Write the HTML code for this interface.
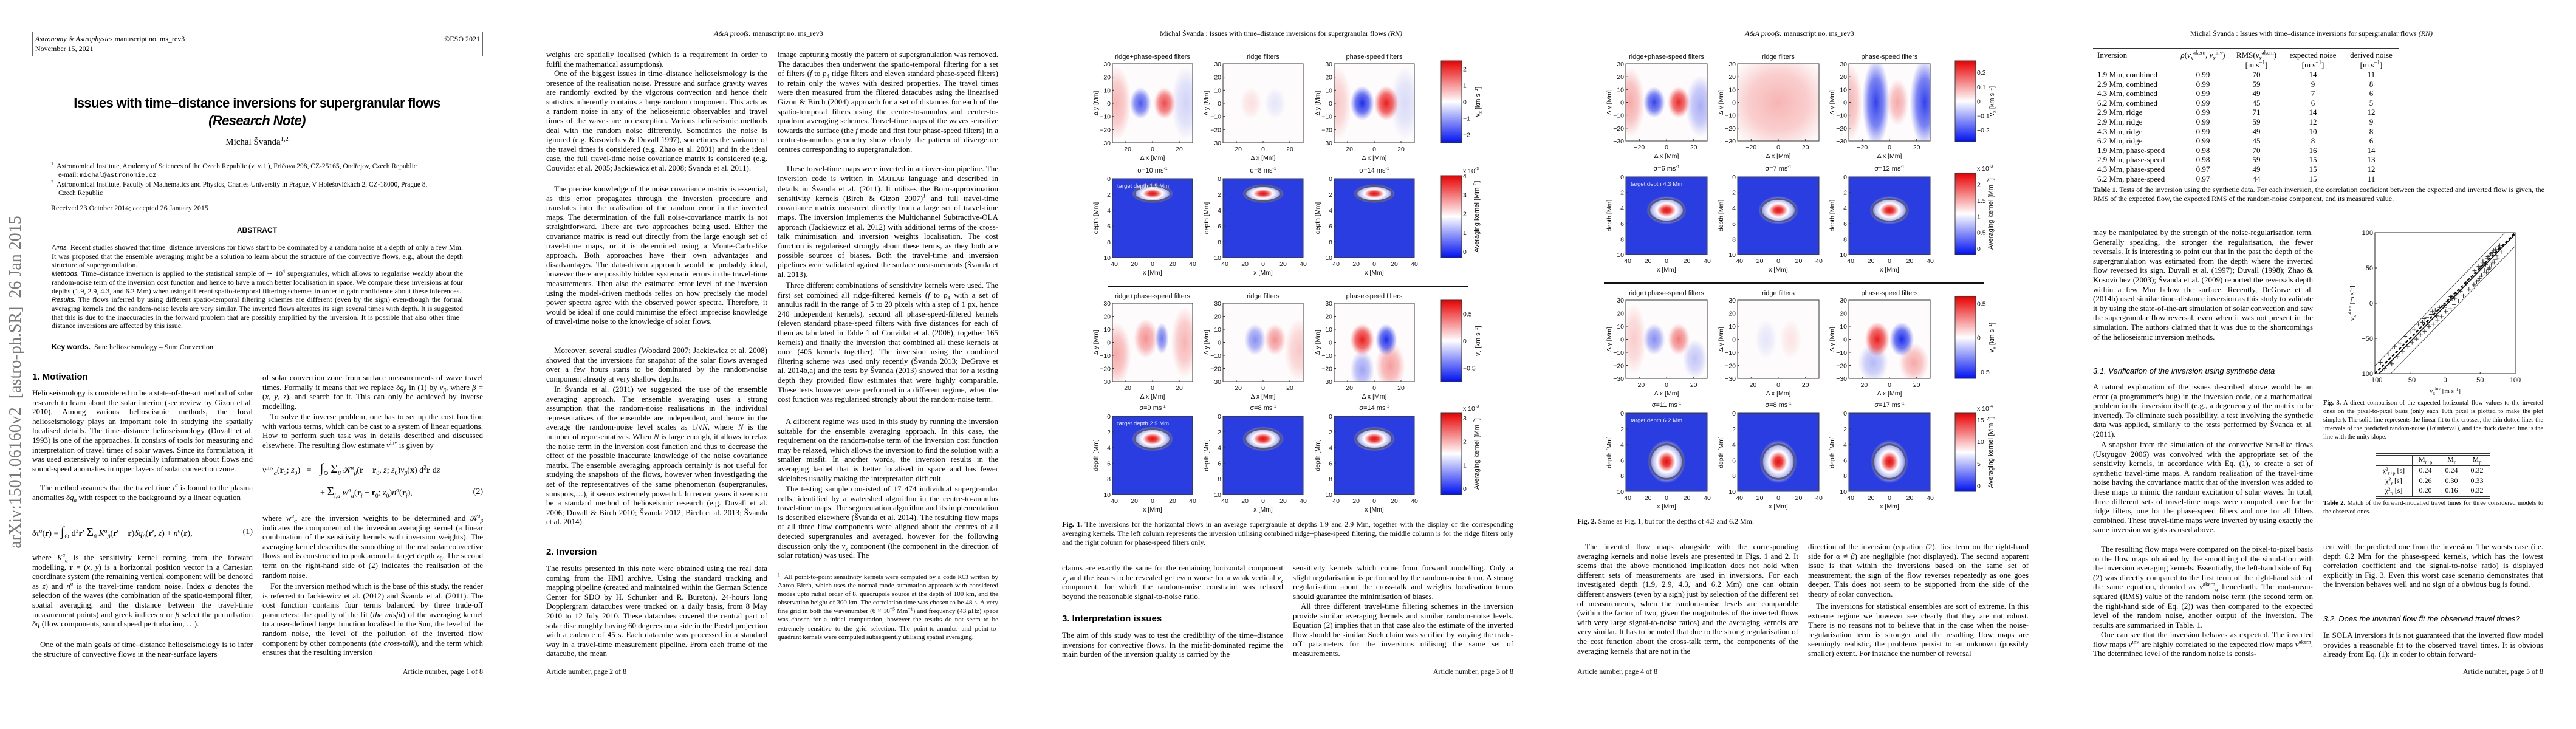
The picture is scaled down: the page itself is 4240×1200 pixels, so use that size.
<!DOCTYPE html>
<html lang="en">
<head>
<meta charset="utf-8">
<title>Issues with time-distance inversions for supergranular flows</title>
<style>
  html,body{margin:0;padding:0;background:#fff;}
  body{width:4240px;height:1200px;position:relative;overflow:hidden;color:#000;font-family:"Liberation Serif",serif;}
  .c{position:absolute;font:13px/15.6px "Liberation Serif",serif;text-align:justify;overflow:hidden;}
  .c.i{text-indent:13px;}
  .h{position:absolute;font:bold 15px "Liberation Sans",sans-serif;white-space:nowrap;}
  .hi{position:absolute;font:italic 13px "Liberation Sans",sans-serif;white-space:nowrap;}
  .run{position:absolute;font:12px "Liberation Serif",serif;white-space:nowrap;}
  .foot{position:absolute;font:12px "Liberation Serif",serif;white-space:nowrap;top:1098px;}
  .cap{position:absolute;font:12px/15px "Liberation Serif",serif;text-align:justify;overflow:hidden;}
  .cap.s{font-size:10.5px;line-height:14px;}
  .eq{position:absolute;font:14px "Liberation Serif",serif;white-space:nowrap;}
  .eq i{font-style:italic;}
  sup,sub{font-size:70%;line-height:0;}
  #figs{position:absolute;left:0;top:0;}
  .tb{position:absolute;font:13px "Liberation Serif",serif;white-space:nowrap;}
</style>
</head>
<body>

<div style="position:absolute;left:-252px;top:611px;width:560px;height:36px;transform:rotate(-90deg);font:28px 'Liberation Serif',serif;color:#7a7a7a;text-align:center;white-space:nowrap;">arXiv:1501.06160v2&nbsp; [astro-ph.SR]&nbsp; 26 Jan 2015</div>

<!-- PAGE 1 -->
<div>
  <div style="position:absolute;left:53px;top:52px;width:740px;height:39px;border:1px solid #666;font:12px 'Liberation Serif',serif;">
    <div style="position:absolute;left:4px;top:4px;"><i>Astronomy &amp; Astrophysics</i> manuscript no. ms_rev3</div>
    <div style="position:absolute;left:4px;top:20px;">November 15, 2021</div>
    <div style="position:absolute;right:4px;top:4px;">©ESO 2021</div>
  </div>
  <div style="position:absolute;left:23px;width:800px;top:157px;text-align:center;font:bold 22px 'Liberation Sans',sans-serif;letter-spacing:-0.6px;">Issues with time–distance inversions for supergranular flows</div>
  <div style="position:absolute;left:23px;width:800px;top:186px;text-align:center;font:italic bold 22px 'Liberation Sans',sans-serif;letter-spacing:-0.6px;">(Research Note)</div>
  <div style="position:absolute;left:23px;width:800px;top:226px;text-align:center;font:15px 'Liberation Serif',serif;">Michal Švanda<sup>1,2</sup></div>
  <div style="position:absolute;left:84px;top:267px;width:700px;font:11.5px/14.3px 'Liberation Serif',serif;">
    <div><sup>1</sup>&nbsp; Astronomical Institute, Academy of Sciences of the Czech Republic (v. v. i.), Fričova 298, CZ-25165, Ondřejov, Czech Republic</div>
    <div style="padding-left:12px;">e-mail: <span style="font-family:'Liberation Mono',monospace;font-size:10.5px;">michal@astronomie.cz</span></div>
    <div><sup>2</sup>&nbsp; Astronomical Institute, Faculty of Mathematics and Physics, Charles University in Prague, V Holešovičkách 2, CZ-18000, Prague 8,</div>
    <div style="padding-left:12px;">Czech Republic</div>
  </div>
  <div style="position:absolute;left:84px;top:335px;font:12px 'Liberation Serif',serif;">Received 23 October 2014; accepted 26 January 2015</div>
  <div style="position:absolute;left:23px;width:800px;top:372px;text-align:center;font:bold 12px 'Liberation Sans',sans-serif;">ABSTRACT</div>
  <div class="cap" style="left:85px;top:400px;width:677px;height:155px;font-size:12px;line-height:14px;">
    <i style="font-family:'Liberation Sans',sans-serif;font-size:11px;">Aims.</i> Recent studies showed that time–distance inversions for flows start to be dominated by a random noise at a depth of only a few Mm. It was proposed that the ensemble averaging might be a solution to learn about the structure of the convective flows, e.g., about the depth structure of supergranulation.<br>
    <i style="font-family:'Liberation Sans',sans-serif;font-size:11px;">Methods.</i> Time–distance inversion is applied to the statistical sample of ∼ 10<sup>4</sup> supergranules, which allows to regularise weakly about the random-noise term of the inversion cost function and hence to have a much better localisation in space. We compare these inversions at four depths (1.9, 2.9, 4.3, and 6.2 Mm) when using different spatio-temporal filtering schemes in order to gain confidence about these inferences.<br>
    <i style="font-family:'Liberation Sans',sans-serif;font-size:11px;">Results.</i> The flows inferred by using different spatio-temporal filtering schemes are different (even by the sign) even-though the formal averaging kernels and the random-noise levels are very similar. The inverted flows alterates its sign several times with depth. It is suggested that this is due to the inaccuracies in the forward problem that are possibly amplified by the inversion. It is possible that also other time–distance inversions are affected by this issue.
  </div>
  <div style="position:absolute;left:85px;top:564px;font:12px 'Liberation Serif',serif;"><b style="font-family:'Liberation Sans',sans-serif;">Key words.</b>&nbsp; Sun: helioseismology – Sun: Convection</div>

  <div class="h" style="left:53px;top:612px;">1. Motivation</div>
  <div class="c" style="left:53px;top:639px;width:363px;height:156px;">Helioseismology is considered to be a state-of-the-art method of solar research to learn about the solar interior (see review by Gizon et al. 2010). Among various helioseismic methods, the local helioseismology plays an important role in studying the spatially localised details. The time–distance helioseismology (Duvall et al. 1993) is one of the approaches. It consists of tools for measuring and interpretation of travel times of solar waves. Since its formulation, it was used extensively to infer especially information about flows and sound-speed anomalies in upper layers of solar convection zone.</div>
  <div class="c i" style="left:53px;top:795px;width:363px;height:47px;">The method assumes that the travel time <i>τ<sup>a</sup></i> is bound to the plasma anomalies <i>δq<sub>α</sub></i> with respect to the background by a linear equation</div>
  <div class="eq" style="left:53px;top:862px;width:363px;"><i>δτ<sup>a</sup></i>(<b>r</b>) = <span style="font-size:22px;">∫</span><sub>⊙</sub> d<sup>2</sup><b>r</b>′ <span style="font-size:20px;">Σ</span><sub><i>β</i></sub> <i>K<sup>a</sup><sub>β</sub></i>(<b>r</b>′ − <b>r</b>)<i>δq<sub>β</sub></i>(<b>r</b>′, <i>z</i>) + <i>n<sup>a</sup></i>(<b>r</b>),<span style="position:absolute;right:0;top:6px;">(1)</span></div>
  <div class="c" style="left:53px;top:910px;width:363px;height:140px;">where <i>K<sup>a</sup><sub>α</sub></i> is the sensitivity kernel coming from the forward modelling, <b>r</b> = (<i>x</i>, <i>y</i>) is a horizontal position vector in a Cartesian coordinate system (the remaining vertical component will be denoted as <i>z</i>) and <i>n<sup>a</sup></i> is the travel-time random noise. Index <i>a</i> denotes the selection of the waves (the combination of the spatio-temporal filter, spatial averaging, and the distance between the travel-time measurement points) and greek indices <i>α</i> or <i>β</i> select the perturbation <i>δq</i> (flow components, sound speed perturbation, …).</div>
  <div class="c i" style="left:53px;top:1053px;width:363px;height:31px;">One of the main goals of time–distance helioseismology is to infer the structure of convective flows in the near-surface layers</div>

  <div class="c" style="left:432px;top:614px;width:363px;height:62px;">of solar convection zone from surface measurements of wave travel times. Formally it means that we replace <i>δq<sub>β</sub></i> in (1) by <i>v<sub>β</sub></i>, where <i>β</i> = (<i>x</i>, <i>y</i>, <i>z</i>), and search for it. This can only be achieved by inverse modelling.</div>
  <div class="c i" style="left:432px;top:678px;width:363px;height:62px;">To solve the inverse problem, one has to set up the cost function with various terms, which can be cast to a system of linear equations. How to perform such task was in details described and discussed elsewhere. The resulting flow estimate <i>v</i><sup>inv</sup> is given by</div>
  <div class="eq" style="left:432px;top:758px;"><i>v</i><sup>inv</sup><sub><i>α</i></sub>(<b>r</b><sub>0</sub>; <i>z</i><sub>0</sub>) &nbsp; = &nbsp;&nbsp; <span style="font-size:22px;">∫</span><sub>⊙</sub> <span style="font-size:20px;">Σ</span><sub><i>β</i></sub> 𝒦<sup><i>α</i></sup><sub><i>β</i></sub>(<b>r</b> − <b>r</b><sub>0</sub>, <i>z</i>; <i>z</i><sub>0</sub>)<i>v<sub>β</sub></i>(<b>x</b>) d<sup>2</sup><b>r</b> d<i>z</i></div>
  <div class="eq" style="left:432px;top:798px;width:363px;"><span style="padding-left:95px;">+ <span style="font-size:20px;">Σ</span><sub><i>i,a</i></sub> <i>w<sup>a</sup><sub>α</sub></i>(<b>r</b><sub><i>i</i></sub> − <b>r</b><sub>0</sub>; <i>z</i><sub>0</sub>)<i>n<sup>a</sup></i>(<b>r</b><sub><i>i</i></sub>),</span><span style="position:absolute;right:0;top:4px;">(2)</span></div>
  <div class="c" style="left:432px;top:845px;width:363px;height:109px;">where <i>w<sup>a</sup><sub>α</sub></i> are the inversion weights to be determined and 𝒦<sup><i>α</i></sup><sub><i>β</i></sub> indicates the component of the inversion averaging kernel (a linear combination of the sensitivity kernels with inversion weights). The averaging kernel describes the smoothing of the real solar convective flows and is constructed to peak around a target depth <i>z</i><sub>0</sub>. The second term on the right-hand side of (2) indicates the realisation of the random noise.</div>
  <div class="c i" style="left:432px;top:957px;width:363px;height:125px;">For the inversion method which is the base of this study, the reader is referred to Jackiewicz et al. (2012) and Švanda et al. (2011). The cost function contains four terms balanced by three trade-off parameters: the quality of the fit (<i>the misfit</i>) of the averaging kernel to a user-defined target function localised in the Sun, the level of the random noise, the level of the pollution of the inverted flow component by other components (<i>the cross-talk</i>), and the term which ensures that the resulting inversion</div>
  <div class="foot" style="left:595px;width:200px;text-align:right;">Article number, page 1 of 8</div>
</div>

<!-- PAGE 2 -->
<div>
  <div class="run" style="left:1175px;top:48px;"><i>A&amp;A proofs:</i> manuscript no. ms_rev3</div>
  <div class="c" style="left:899px;top:82px;width:364px;height:31px;">weights are spatially localised (which is a requirement in order to fulfil the mathematical assumptions).</div>
  <div class="c i" style="left:899px;top:113px;width:364px;height:187px;">One of the biggest issues in time–distance helioseismology is the presence of the realisation noise. Pressure and surface gravity waves are randomly excited by the vigorous convection and hence their statistics inherently contains a large random component. This acts as a random noise in any of the helioseismic observables and travel times of the waves are no exception. Various helioseismic methods deal with the random noise differently. Sometimes the noise is ignored (e.g. Kosovichev &amp; Duvall 1997), sometimes the variance of the travel times is considered (e.g. Zhao et al. 2001) and in the ideal case, the full travel-time noise covariance matrix is considered (e.g. Couvidat et al. 2005; Jackiewicz et al. 2008; Švanda et al. 2011).</div>
  <div class="c i" style="left:899px;top:303px;width:364px;height:265px;">The precise knowledge of the noise covariance matrix is essential, as this error propagates through the inversion procedure and translates into the realisation of the random error in the inverted maps. The determination of the full noise-covariance matrix is not straightforward. There are two approaches being used. Either the covariance matrix is read out directly from the large enough set of travel-time maps, or it is determined using a Monte-Carlo-like approach. Both approaches have their own advantages and disadvantages. The data-driven approach would be probably ideal, however there are possibly hidden systematic errors in the travel-time measurements. Then also the estimated error level of the inversion using the model-driven methods relies on how precisely the model power spectra agree with the observed power spectra. Therefore, it would be ideal if one could minimise the effect imprecise knowledge of travel-time noise to the knowledge of solar flows.</div>
  <div class="c i" style="left:899px;top:569px;width:364px;height:62px;">Moreover, several studies (Woodard 2007; Jackiewicz et al. 2008) showed that the inversions for snapshot of the solar flows averaged over a few hours starts to be dominated by the random-noise component already at very shallow depths.</div>
  <div class="c i" style="left:899px;top:633px;width:364px;height:234px;">In Švanda et al. (2011) we suggested the use of the ensemble averaging approach. The ensemble averaging uses a strong assumption that the random-noise realisations in the individual representatives of the ensemble are independent, and hence in the average the random-noise level scales as 1/√<i>N</i>, where <i>N</i> is the number of representatives. When <i>N</i> is large enough, it allows to relax the noise term in the inversion cost function and thus to decrease the effect of the possible inaccurate knowledge of the noise covariance matrix. The ensemble averaging approach certainly is not useful for studying the snapshots of the flows, however when investigating the set of the representatives of the same phenomenon (supergranules, sunspots,…), it seems extremely powerful. In recent years it seems to be a standard method of helioseismic research (e.g. Duvall et al. 2006; Duvall &amp; Birch 2010; Švanda 2012; Birch et al. 2013; Švanda et al. 2014).</div>
  <div class="h" style="left:899px;top:900px;">2. Inversion</div>
  <div class="c" style="left:899px;top:928px;width:364px;height:156px;">The results presented in this note were obtained using the real data coming from the HMI archive. Using the standard tracking and mapping pipeline (created and maintained within the German Science Center for SDO by H. Schunker and R. Burston), 24-hours long Dopplergram datacubes were tracked on a daily basis, from 8 May 2010 to 12 July 2010. These datacubes covered the central part of solar disc roughly having 60 degrees on a side in the Postel projection with a cadence of 45 s. Each datacube was processed in a standard way in a travel-time measurement pipeline. From each frame of the datacube, the mean</div>

  <div class="c" style="left:1280px;top:82px;width:363px;height:187px;">image capturing mostly the pattern of supergranulation was removed. The datacubes then underwent the spatio-temporal filtering for a set of filters (<i>f</i> to <i>p</i><sub>4</sub> ridge filters and eleven standard phase-speed filters) to retain only the waves with desired properties. The travel times were then measured from the filtered datacubes using the linearised Gizon &amp; Birch (2004) approach for a set of distances for each of the spatio-temporal filters using the centre-to-annulus and centre-to-quadrant averaging schemes. Travel-time maps of the waves sensitive towards the surface (the <i>f</i> mode and first four phase-speed filters) in a centre-to-annulus geometry show clearly the pattern of divergence centres corresponding to supergranulation.</div>
  <div class="c i" style="left:1280px;top:270px;width:363px;height:187px;">These travel-time maps were inverted in an inversion pipeline. The inversion code is written in M<span style="font-size:10px;">ATLAB</span> language and described in details in Švanda et al. (2011). It utilises the Born-approximation sensitivity kernels (Birch &amp; Gizon 2007)<sup>1</sup> and full travel-time covariance matrix measured directly from a large set of travel-time maps. The inversion implements the Multichannel Subtractive-OLA approach (Jackiewicz et al. 2012) with additional terms of the cross-talk minimisation and inversion weights localisation. The cost function is regularised strongly about these terms, as they both are possible sources of biases. Both the travel-time and inversion pipelines were validated against the surface measurements (Švanda et al. 2013).</div>
  <div class="c i" style="left:1280px;top:462px;width:363px;height:218px;">Three different combinations of sensitivity kernels were used. The first set combined all ridge-filtered kernels (<i>f</i> to <i>p</i><sub>4</sub> with a set of annulus radii in the range of 5 to 20 pixels with a step of 1 px, hence 240 independent kernels), second all phase-speed-filtered kernels (eleven standard phase-speed filters with five distances for each of them as tabulated in Table 1 of Couvidat et al. (2006), together 165 kernels) and finally the inversion that combined all these kernels at once (405 kernels together). The inversion using the combined filtering scheme was used only recently (Švanda 2013; DeGrave et al. 2014b,a) and the tests by Švanda (2013) showed that for a testing depth they provided flow estimates that were highly comparable. These tests however were performed in a different regime, when the cost function was regularised strongly about the random-noise term.</div>
  <div class="c i" style="left:1280px;top:686px;width:363px;height:109px;">A different regime was used in this study by running the inversion suitable for the ensemble averaging approach. In this case, the requirement on the random-noise term of the inversion cost function may be relaxed, which allows the inversion to find the solution with a smaller misfit. In another words, the inversion results in the averaging kernel that is better localised in space and has fewer sidelobes usually making the interpretation difficult.</div>
  <div class="c i" style="left:1280px;top:797px;width:363px;height:125px;">The testing sample consisted of 17 474 individual supergranular cells, identified by a watershed algorithm in the centre-to-annulus travel-time maps. The segmentation algorithm and its implementation is described elsewhere (Švanda et al. 2014). The resulting flow maps of all three flow components were aligned about the centres of all detected supergranules and averaged, however for the following discussion only the <i>v<sub>x</sub></i> component (the component in the direction of solar rotation) was used. The</div>
  <div style="position:absolute;left:1280px;top:938px;width:110px;border-top:1px solid #222;"></div>
  <div class="c" style="left:1280px;top:943px;width:363px;height:142px;font-size:11px;line-height:14.1px;"><sup>1</sup>&nbsp; All point-to-point sensitivity kernels were computed by a code <span style="font-size:9px;">KC3</span> written by Aaron Birch, which uses the normal mode summation approach with considered modes upto radial order of 8, quadrupole source at the depth of 100 km, and the observation height of 300 km. The correlation time was chosen to be 48 s. A very fine grid in both the wavenumber (6 × 10<sup>−5</sup> Mm<sup>−1</sup>) and frequency (43 <i>μ</i>Hz) space was chosen for a initial computation, however the results do not seem to be extremely sensitive to the grid selection. The point-to-annulus and point-to-quadrant kernels were computed subsequently utilising spatial averaging.</div>
  <div class="foot" style="left:899px;">Article number, page 2 of 8</div>
</div>

<!-- PAGE 3 -->
<div>
  <div class="run" style="left:1909px;top:48px;">Michal Švanda : Issues with time–distance inversions for supergranular flows <i>(RN)</i></div>
  <div class="cap" style="left:1748px;top:856px;width:743px;height:46px;"><b>Fig. 1.</b> The inversions for the horizontal flows in an average supergranule at depths 1.9 and 2.9 Mm, together with the display of the corresponding averaging kernels. The left column represents the inversion utilising combined ridge+phase-speed filtering, the middle column is for the ridge filters only and the right column for phase-speed filters only.</div>
  <div class="c" style="left:1748px;top:927px;width:364px;height:62px;">claims are exactly the same for the remaining horizontal component <i>v<sub>y</sub></i> and the issues to be revealed get even worse for a weak vertical <i>v<sub>z</sub></i> component, for which the random-noise constraint was relaxed beyond the reasonable signal-to-noise ratio.</div>
  <div class="h" style="left:1748px;top:1010px;">3. Interpretation issues</div>
  <div class="c" style="left:1748px;top:1038px;width:364px;height:47px;">The aim of this study was to test the credibility of the time–distance inversions for convective flows. In the misfit-dominated regime the main burden of the inversion quality is carried by the</div>
  <div class="c" style="left:2128px;top:927px;width:363px;height:62px;">sensitivity kernels which come from forward modelling. Only a slight regularisation is performed by the random-noise term. A strong regularisation about the cross-talk and weights localisation terms should guarantee the minimisation of biases.</div>
  <div class="c i" style="left:2128px;top:990px;width:363px;height:94px;">All three different travel-time filtering schemes in the inversion provide similar averaging kernels and similar random-noise levels. Equation (2) implies that in that case also the estimate of the inverted flow should be similar. Such claim was verified by varying the trade-off parameters for the inversions utilising the same set of measurements.</div>
  <div class="foot" style="left:2291px;width:200px;text-align:right;">Article number, page 3 of 8</div>
</div>

<!-- PAGE 4 -->
<div>
  <div class="run" style="left:2872px;top:48px;"><i>A&amp;A proofs:</i> manuscript no. ms_rev3</div>
  <div class="cap" style="left:2596px;top:851px;width:743px;height:16px;"><b>Fig. 2.</b> Same as Fig. 1, but for the depths of 4.3 and 6.2 Mm.</div>
  <div class="c i" style="left:2596px;top:892px;width:364px;height:187px;">The inverted flow maps alongside with the corresponding averaging kernels and noise levels are presented in Figs. 1 and 2. It seems that the above mentioned implication does not hold when different sets of measurements are used in inversions. For each investigated depth (1.9, 2.9, 4.3, and 6.2 Mm) one can obtain different answers (even by a sign) just by selection of the different set of measurements, when the random-noise levels are comparable (within the factor of two, given the magnitudes of the inverted flows with very large signal-to-noise ratios) and the averaging kernels are very similar. It has to be noted that due to the strong regularisation of the cost function about the cross-talk term, the components of the averaging kernels that are not in the</div>
  <div class="c" style="left:2976px;top:892px;width:363px;height:94px;">direction of the inversion (equation (2), first term on the right-hand side for <i>α</i> ≠ <i>β</i>) are negligible (not displayed). The second apparent issue is that within the inversions based on the same set of measurement, the sign of the flow reverses repeatedly as one goes deeper. This does not seem to be supported from the side of the theory of solar convection.</div>
  <div class="c i" style="left:2976px;top:990px;width:363px;height:94px;">The inversions for statistical ensembles are sort of extreme. In this extreme regime we however see clearly that they are not robust. There is no reasons not to believe that in the case when the noise-regularisation term is stronger and the resulting flow maps are seemingly realistic, the problems persist to an unknown (possibly smaller) extent. For instance the number of reversal</div>
  <div class="foot" style="left:2596px;">Article number, page 4 of 8</div>
</div>

<!-- PAGE 5 -->
<div>
  <div class="run" style="left:3605px;top:48px;">Michal Švanda : Issues with time–distance inversions for supergranular flows <i>(RN)</i></div>
  <div id="table1"></div>
  <div class="cap" style="left:3445px;top:305px;width:743px;height:31px;"><b>Table 1.</b> Tests of the inversion using the synthetic data. For each inversion, the correlation coeficient between the expected and inverted flow is given, the RMS of the expected flow, the expected RMS of the random-noise component, and its measured value.</div>
  <div class="c" style="left:3445px;top:375px;width:362px;height:203px;">may be manipulated by the strength of the noise-regularisation term. Generally speaking, the stronger the regularisation, the fewer reversals. It is interesting to point out that in the past the depth of the supergranulation was estimated from the depth where the inverted flow reversed its sign. Duvall et al. (1997); Duvall (1998); Zhao &amp; Kosovichev (2003); Švanda et al. (2009) reported the reversals depth within a few Mm below the surface. Recently, DeGrave et al. (2014b) used similar time–distance inversion as this study to validate it by using the state-of-the-art simulation of solar convection and saw the supergranular flow reversal, even when it was not present in the simulation. The authors claimed that it was due to the shortcomings of the helioseismic inversion methods.</div>
  <div class="hi" style="left:3445px;top:603px;">3.1. Verification of the inversion using synthetic data</div>
  <div class="c" style="left:3445px;top:629px;width:362px;height:94px;">A natural explanation of the issues described above would be an error (a programmer's bug) in the inversion code, or a mathematical problem in the inversion itself (e.g., a degeneracy of the matrix to be inverted). To eliminate such possibility, a test involving the synthetic data was applied, similarly to the tests performed by Švanda et al. (2011).</div>
  <div class="c i" style="left:3445px;top:724px;width:362px;height:172px;">A snapshot from the simulation of the convective Sun-like flows (Ustyugov 2006) was convolved with the appropriate set of the sensitivity kernels, in accordance with Eq. (1), to create a set of synthetic travel-time maps. A random realisation of the travel-time noise having the covariance matrix that of the inversion was added to these maps to mimic the random excitation of solar waves. In total, three different sets of travel-time maps were computed, one for the ridge filters, one for the phase-speed filters and one for all filters combined. These travel-time maps were inverted by using exactly the same inversion weights as used above.</div>
  <div class="c i" style="left:3445px;top:896px;width:362px;height:140px;">The resulting flow maps were compared on the pixel-to-pixel basis to the flow maps obtained by the smoothing of the simulation with the inversion averaging kernels. Essentially, the left-hand side of Eq. (2) was directly compared to the first term of the right-hand side of the same equation, denoted as <i>v</i><sup>akern</sup><sub><i>α</i></sub> henceforth. The root-mean-squared (RMS) value of the random noise term (the second term on the right-hand side of Eq. (2)) was then compared to the expected level of the random noise, another output of the inversion. The results are summarised in Table. 1.</div>
  <div class="c i" style="left:3445px;top:1037px;width:362px;height:47px;">One can see that the inversion behaves as expected. The inverted flow maps <i>v</i><sup>inv</sup> are highly correlated to the expected flow maps <i>v</i><sup>akern</sup>. The determined level of the random noise is consis-</div>
  <div class="cap s" style="left:3824px;top:657px;width:362px;height:71px;"><b>Fig. 3.</b> A direct comparison of the expected horizontal flow values to the inverted ones on the pixel-to-pixel basis (only each 10th pixel is plotted to make the plot simpler). The solid line represents the linear fit to the crosses, the thin dotted lines the intervals of the predicted random-noise (1<i>σ</i> interval), and the thick dashed line is the line with the unity slope.</div>
  <div id="table2"></div>
  <div class="cap s" style="left:3824px;top:822px;width:362px;height:29px;"><b>Table 2.</b> Match of the forward-modelled travel times for three considered models to the observed ones.</div>
  <div class="c" style="left:3824px;top:892px;width:362px;height:94px;">tent with the predicted one from the inversion. The worsts case (i.e. depth 6.2 Mm for the phase-speed kernels, which has the lowest correlation coefficient and the signal-to-noise ratio) is displayed explicitly in Fig. 3. Even this worst case scenario demonstrates that the inversion behaves well and no sign of a obvious bug is found.</div>
  <div class="hi" style="left:3824px;top:1011px;">3.2. Does the inverted flow fit the observed travel times?</div>
  <div class="c" style="left:3824px;top:1038px;width:362px;height:47px;">In SOLA inversions it is not guaranteed that the inverted flow model provides a reasonable fit to the observed travel times. It is obvious already from Eq. (1): in order to obtain forward-</div>
  <div class="foot" style="left:3986px;width:200px;text-align:right;">Article number, page 5 of 8</div>
</div>

<svg id="figs" width="4240" height="1200" xmlns="http://www.w3.org/2000/svg">
  <defs>
    <radialGradient id="gRed"><stop offset="0" stop-color="#e81010" stop-opacity="1"/><stop offset="0.55" stop-color="#ee3030" stop-opacity="0.75"/><stop offset="1" stop-color="#f04040" stop-opacity="0"/></radialGradient>
    <radialGradient id="gBlue"><stop offset="0" stop-color="#1020e8" stop-opacity="1"/><stop offset="0.55" stop-color="#3040ee" stop-opacity="0.75"/><stop offset="1" stop-color="#4050f0" stop-opacity="0"/></radialGradient>
    <radialGradient id="gKer"><stop offset="0" stop-color="#e21010"/><stop offset="0.2" stop-color="#ef3a3a"/><stop offset="0.48" stop-color="#ffffff"/><stop offset="0.72" stop-color="#b8bef2"/><stop offset="1" stop-color="#2a3de0"/></radialGradient>
    <linearGradient id="gBar" x1="0" y1="0" x2="0" y2="1"><stop offset="0" stop-color="#e80000"/><stop offset="0.5" stop-color="#ffffff"/><stop offset="1" stop-color="#0012f0"/></linearGradient>
  </defs>
</svg>

<script>
// ---------- DATA ----------
const flowTitles = ['ridge+phase-speed filters', 'ridge filters', 'phase-speed filters'];
const flowYTicks = [30, 20, 10, 0, -10, -20, -30];
const flowXTicks = [-20, 0, 20];
const kerYTicks = [0, 2, 4, 6, 8, 10];
const kerXTicks = [-40, -20, 0, 20, 40];
const fig1Depth1Blobs = [
  [[-27,0,11,28,0.3],[25,0,11,28,-0.18],[-9,0,8,12,-0.75],[9,0,8,12,0.75]],
  [[-9,0,8,12,0.12],[9,0,8,12,-0.1]],
  [[-28,0,11,28,0.22],[23,0,11,28,-0.15],[-9,0,9,13,-0.95],[9,0,9,13,0.95]]
];
const fig1Depth2Blobs = [
  [[-27,-9,11,24,0.35],[24,0,10,27,0.3],[-5,3,9,15,0.45],[7,3,5,12,-0.6]],
  [[27,-6,11,24,0.22],[-6,2,8,12,-0.5],[9,2,8,12,0.45]],
  [[-9,-21,9,15,-0.4],[12,-18,11,18,0.4],[-9,2,9,12,0.95],[9,2,8,12,-0.95]]
];
const fig2Depth1Blobs = [
  [[-27,0,11,27,0.35],[25,-3,11,24,-0.35],[-9,0,8,12,-0.85],[9,0,8,12,0.9]],
  [[0,0,40,40,0.3]],
  [[-29,0,9,30,0.3],[-10,0,10,34,-0.85],[6,0,8,18,0.35],[26,0,11,34,-0.85]]
];
const fig2Depth2Blobs = [
  [[-9,0,8,12,-0.5],[9,0,8,12,0.55],[21,-15,9,15,-0.25],[-24,0,9,27,0.2]],
  [[-9,0,8,15,-0.1],[9,0,8,15,0.1]],
  [[-12,-18,11,15,-0.3],[18,-18,11,15,0.35],[-9,0,9,13,0.95],[9,0,9,13,-0.95]]
];
const kernelDepths = [1.9, 2.9, 4.3, 6.2];
const kernelHalfWidths = [18, 18, 17, 16];
const kernelHalfHeights = [0.95, 1.25, 1.45, 2.2];
const fig1SigmaA = [10, 8, 14];
const fig1SigmaB = [9, 8, 14];
const fig2SigmaA = [6, 7, 12];
const fig2SigmaB = [11, 8, 17];
const cbFlow1Ticks = [2, 1, 0, -1, -2];      const cbFlow1Max = [2.5];
const cbKer1Ticks = [4, 3, 2, 1, 0];         const cbKer1Max = [4];
const cbFlow2Ticks = [0.5, 0, -0.5];         const cbFlow2Max = [0.75];
const cbKer2Ticks = [3, 2, 1, 0];            const cbKer2Max = [3.2];
const cbFlow3Ticks = [0.2, 0.1, 0, -0.1, -0.2]; const cbFlow3Max = [0.28];
const cbKer3Ticks = [2, 1.5, 1, 0.5, 0];     const cbKer3Max = [2.35];
const cbFlow4Ticks = [0.5, 0, -0.5];         const cbFlow4Max = [0.6];
const cbKer4Ticks = [15, 10, 5, 0];          const cbKer4Max = [16.5];
const scatterX = [-92,-86,-80,-76,-72,-68,-64,-60,-57,-53,-50,-47,-44,-41,-38,-35,-32,-29,-26,-23,-20,-17,-14,-11,-8,-5,-2,1,4,7,10,13,16,19,22,26,30,34,38,41,44,47,50,52,55,57,60,62,64,66,68,70,72,75,78,45,48,51,54,56,58,61,63,65,67,69,71,73,76,80,42,49,53,59,-30,-25,-18,-12,-6,0,8,14];
const scatterY = [-84,-93,-72,-86,-62,-76,-58,-69,-47,-62,-41,-56,-37,-51,-30,-45,-27,-40,-20,-33,-16,-30,-10,-24,-6,-19,-3,-12,2,-8,6,-2,13,3,17,10,28,20,34,26,42,32,50,40,56,44,63,48,67,54,72,58,76,64,82,30,52,38,60,47,55,66,50,70,58,75,62,68,80,73,46,35,58,44,-22,-28,-12,-18,-4,-6,9,7];
const fitSlope = [1.02];
const fitIntercept = [-4];
const noiseSigma = [17];
const axisTicks3 = [-100, -50, 0, 50, 100];
const t1Names = ['1.9 Mm, combined','2.9 Mm, combined','4.3 Mm, combined','6.2 Mm, combined','2.9 Mm, ridge','2.9 Mm, ridge','4.3 Mm, ridge','6.2 Mm, ridge','1.9 Mm, phase-speed','2.9 Mm, phase-speed','4.3 Mm, phase-speed','6.2 Mm, phase-speed'];
const t1Rho = ['0.99','0.99','0.99','0.99','0.99','0.99','0.99','0.99','0.98','0.98','0.97','0.97'];
const t1Rms = [70,59,49,45,71,59,49,45,70,59,49,44];
const t1Expected = [14,9,7,6,14,12,10,8,16,15,15,15];
const t1Derived = [11,8,6,5,12,9,8,6,14,13,12,11];
const t2Rows = ['χ²<sub>r+p</sub> [s]','χ²<sub>r</sub> [s]','χ²<sub>p</sub> [s]'];
const t2Cols = ['M<sub>r+p</sub>','M<sub>r</sub>','M<sub>p</sub>'];
const t2Vals = [['0.24','0.24','0.32'],['0.26','0.30','0.33'],['0.20','0.16','0.32']];

// ---------- HELPERS ----------
const NS = 'http://www.w3.org/2000/svg';
const svg = document.getElementById('figs');
function mk(tag, parent, attrs) {
  const e = document.createElementNS(NS, tag);
  for (const k in attrs) e.setAttribute(k, attrs[k]);
  parent.appendChild(e);
  return e;
}
function txt(parent, x, y, s, size, anchor, rot) {
  const t = mk('text', parent, {x: x, y: y, 'font-size': size, 'text-anchor': anchor || 'middle', 'font-family': 'Liberation Sans, sans-serif', fill: '#111'});
  if (rot) t.setAttribute('transform', 'rotate(' + rot + ' ' + x + ' ' + y + ')');
  t.innerHTML = s;
  return t;
}
let clipN = 0;

function flowPanel(x, y, w, h, blobs, title, name) {
  const g = mk('g', svg, {});
  
  
  const sx = v => x + (v + 30) / 60 * w;
  const sy = v => y + (30 - v) / 60 * h;
  const cid = 'clip' + (clipN++);
  const cp = mk('clipPath', g, {id: cid});
  mk('rect', cp, {x: x, y: y, width: w, height: h});
  mk('rect', g, {x: x, y: y, width: w, height: h, fill: '#fdfbfb'});
  const inner = mk('g', g, {'clip-path': 'url(#' + cid + ')'});
  blobs.forEach(b => {
    const e = mk('ellipse', inner, {cx: sx(b[0]), cy: sy(b[1]), rx: b[2] / 60 * w, ry: b[3] / 60 * h,
      fill: b[4] > 0 ? 'url(#gRed)' : 'url(#gBlue)', opacity: Math.abs(b[4])});
    
    
  });
  mk('rect', g, {x: x, y: y, width: w, height: h, fill: 'none', stroke: '#333', 'stroke-width': 1});
  flowYTicks.forEach(v => {
    mk('line', g, {x1: x, x2: x + 3, y1: sy(v), y2: sy(v), stroke: '#333'});
    txt(g, x - 3, sy(v) + 4, v < 0 ? '−' + (-v) : v, 10.5, 'end');
  });
  flowXTicks.forEach(v => {
    mk('line', g, {x1: sx(v), x2: sx(v), y1: y + h, y2: y + h - 3, stroke: '#333'});
    txt(g, sx(v), y + h + 14, v < 0 ? '−' + (-v) : v, 10.5);
  });
  txt(g, x + w / 2, y + h + 28, 'Δ x [Mm]', 10.5);
  txt(g, x - 24, y + h / 2, 'Δ y [Mm]', 10.5, 'middle', -90);
  txt(g, x + w / 2, y - 8, title, 11);
}

function kernelPanel(x, y, w, h, k, sigma, showTarget, name) {
  const g = mk('g', svg, {});
  
  
  const sx = v => x + (v + 40) / 80 * w;
  const sy = v => y + v / 10 * h;
  const cid = 'clip' + (clipN++);
  const cp = mk('clipPath', g, {id: cid});
  mk('rect', cp, {x: x, y: y, width: w, height: h});
  mk('rect', g, {x: x, y: y, width: w, height: h, fill: '#2a3de0'});
  const inner = mk('g', g, {'clip-path': 'url(#' + cid + ')'});
  const rx = kernelHalfWidths[k] / 80 * w, ry = kernelHalfHeights[k] / 10 * h;
  const blob = mk('ellipse', inner, {cx: sx(0), cy: sy(kernelDepths[k]), rx: rx * 1.15, ry: ry * 1.25, fill: 'url(#gKer)'});
  
  
  const cont = mk('ellipse', inner, {cx: sx(0), cy: sy(kernelDepths[k]), rx: rx, ry: ry, fill: 'none', stroke: '#5a5a6a', 'stroke-width': 3});
  
  
  mk('rect', g, {x: x, y: y, width: w, height: h, fill: 'none', stroke: '#333', 'stroke-width': 1});
  kerYTicks.forEach(v => {
    mk('line', g, {x1: x, x2: x + 3, y1: sy(v), y2: sy(v), stroke: '#333'});
    txt(g, x - 3, sy(v) + 4, v, 10.5, 'end');
  });
  kerXTicks.forEach(v => {
    txt(g, sx(v), y + h + 14, v < 0 ? '−' + (-v) : v, 10.5);
  });
  txt(g, x + w / 2, y + h + 28, 'x [Mm]', 10.5);
  txt(g, x - 24, y + h / 2, 'depth [Mm]', 10.5, 'middle', -90);
  txt(g, x + w / 2, y - 10, 'σ=' + sigma + ' ms<tspan dy="-4" font-size="7">-1</tspan>', 11);
  if (showTarget) {
    const t = txt(g, x + 8, y + 15, 'target depth ' + kernelDepths[k] + ' Mm', 9.5, 'start');
    t.setAttribute('fill', '#e8ecff');
  }
}

function colorbar(x, y, w, h, ticks, maxv, isKernel, exp, name) {
  const g = mk('g', svg, {});
  
  
  mk('rect', g, {x: x, y: y, width: w, height: h, fill: 'url(#gBar)', stroke: '#333', 'stroke-width': 1});
  const minv = isKernel ? -maxv * 0.08 : -maxv;
  const sy = v => y + (maxv - v) / (maxv - minv) * h;
  ticks.forEach(v => {
    txt(g, x + w + 2, sy(v) + 4, v < 0 ? '−' + (-v) : v, 10.5, 'start');
  });
  if (isKernel) {
    txt(g, x + w + 2, y - 4, 'x 10<tspan dy="-5" font-size="7">' + exp + '</tspan>', 10.5, 'start');
    txt(g, x + w + 28, y + h / 2, 'Averaging kernel [Mm<tspan dy="-4" font-size="7">−3</tspan><tspan dy="4">]</tspan>', 11, 'middle', -90);
  } else {
    txt(g, x + w + 30, y + h / 2, 'v<tspan dy="3" font-size="7">x</tspan><tspan dy="-3"> [km s</tspan><tspan dy="-4" font-size="7">−1</tspan><tspan dy="4">]</tspan>', 11, 'middle', -90);
  }
}

function figure(cols, w, rows, h, blobsA, blobsB, kA, kB, sigA, sigB, cbx, cbw, cbs, sep, label) {
  for (let c = 0; c < 3; c++) {
    flowPanel(cols[c], rows[0], w, h[0], blobsA[c], flowTitles[c], label + '-flow-map-' + (c + 1) + '-a');
    kernelPanel(cols[c], rows[1], w, h[1], kA, sigA[c], c === 0, label + '-kernel-map-' + (c + 1) + '-a');
    flowPanel(cols[c], rows[2], w, h[2], blobsB[c], flowTitles[c], label + '-flow-map-' + (c + 1) + '-b');
    kernelPanel(cols[c], rows[3], w, h[3], kB, sigB[c], c === 0, label + '-kernel-map-' + (c + 1) + '-b');
  }
  cbs.forEach((cb, i) => colorbar(cbx, cb[0], cbw, cb[1], cb[2], cb[3], cb[4], cb[5], label + '-colorbar-' + (i + 1)));
  const l = mk('line', svg, {x1: sep[0], x2: sep[1], y1: sep[2], y2: sep[2], stroke: '#111', 'stroke-width': 2});
  
  
}

figure([1831, 2013, 2196], 132, [105, 294, 499, 685], [130, 130, 129, 129],
  fig1Depth1Blobs, fig1Depth2Blobs, 0, 1, fig1SigmaA, fig1SigmaB, 2372, 34,
  [[100, 135, cbFlow1Ticks, cbFlow1Max[0], false, ''], [289, 135, cbKer1Ticks, cbKer1Max[0], true, '-3'],
   [494, 134, cbFlow2Ticks, cbFlow2Max[0], false, ''], [680, 134, cbKer2Ticks, cbKer2Max[0], true, '-3']],
  [1823, 2416, 472], 'fig1');

figure([2676, 2860, 3043], 134, [105, 291, 494, 680], [127, 128, 129, 129],
  fig2Depth1Blobs, fig2Depth2Blobs, 2, 3, fig2SigmaA, fig2SigmaB, 3218, 34,
  [[100, 133, cbFlow3Ticks, cbFlow3Max[0], false, ''], [285, 134, cbKer3Ticks, cbKer3Max[0], true, '-3'],
   [488, 135, cbFlow4Ticks, cbFlow4Max[0], false, ''], [680, 129, cbKer4Ticks, cbKer4Max[0], true, '-4']],
  [2640, 3265, 466], 'fig2');

// ---------- FIG 3 ----------
(function () {
  const X0 = 3909, X1 = 4140, Y0 = 383, Y1 = 615;
  const sx = v => X0 + (v + 100) / 200 * (X1 - X0);
  const sy = v => Y1 - (v + 100) / 200 * (Y1 - Y0);
  const g = mk('g', svg, {});
  
  
  const cp = mk('clipPath', g, {id: 'clipF3'});
  mk('rect', cp, {x: X0, y: Y0, width: X1 - X0, height: Y1 - Y0});
  mk('rect', g, {x: X0, y: Y0, width: X1 - X0, height: Y1 - Y0, fill: '#fff', stroke: '#222'});
  const inner = mk('g', g, {'clip-path': 'url(#clipF3)'});
  scatterX.forEach((vx, i) => {
    const cx = sx(vx), cy = sy(scatterY[i]);
    const p = mk('path', inner, {d: 'M' + (cx - 3.5) + ' ' + cy + 'h7M' + cx + ' ' + (cy - 3.5) + 'v7', stroke: '#333', 'stroke-width': 1});
    
    
  });
  const fy = v => fitSlope[0] * v + fitIntercept[0];
  [-noiseSigma[0], noiseSigma[0]].forEach(o => {
    const l = mk('line', inner, {x1: sx(-100), y1: sy(fy(-100) + o), x2: sx(100), y2: sy(fy(100) + o), stroke: '#333', 'stroke-width': 0.8});
    
    
  });
  const fit = mk('line', inner, {x1: sx(-100), y1: sy(fy(-100)), x2: sx(100), y2: sy(fy(100)), stroke: '#111', 'stroke-width': 1.6});
  
  
  const uni = mk('line', inner, {x1: sx(-100), y1: sy(-100), x2: sx(100), y2: sy(100), stroke: '#000', 'stroke-width': 2.2, 'stroke-dasharray': '5,3'});
  
  
  axisTicks3.forEach(v => {
    const s = v < 0 ? '−' + (-v) : v;
    txt(g, sx(v), Y1 + 14, s, 11);
    txt(g, X0 - 3, sy(v) + 4, s, 11, 'end');
    mk('line', g, {x1: sx(v), x2: sx(v), y1: Y1, y2: Y1 - 3, stroke: '#222'});
    mk('line', g, {x1: X0, x2: X0 + 3, y1: sy(v), y2: sy(v), stroke: '#222'});
  });
  const xl = txt(g, (X0 + X1) / 2, Y1 + 32, 'v<tspan dy="3" font-size="7">x</tspan><tspan dy="-8" font-size="7">inv</tspan><tspan dy="5"> [m s</tspan><tspan dy="-4" font-size="7">−1</tspan><tspan dy="4">]</tspan>', 11);
  xl.setAttribute('font-family', 'Liberation Serif, serif');
  
  
  const yl = txt(g, X0 - 34, (Y0 + Y1) / 2, 'v<tspan dy="3" font-size="7">x</tspan><tspan dy="-8" font-size="7">akern</tspan><tspan dy="5"> [m s</tspan><tspan dy="-4" font-size="7">−1</tspan><tspan dy="4">]</tspan>', 11, 'middle', -90);
  yl.setAttribute('font-family', 'Liberation Serif, serif');
  
  
})();

// ---------- TABLE 1 ----------
(function () {
  const host = document.getElementById('table1');
  const L = 3445, R = 3949;
  function rule(y, name) {
    const d = document.createElement('div');
    d.style.cssText = 'position:absolute;left:' + L + 'px;width:' + (R - L) + 'px;top:' + y + 'px;border-top:1px solid #333;';
    
    
    host.appendChild(d);
  }
  function cell(x, y, html, center) {
    const d = document.createElement('div');
    d.className = 'tb';
    d.style.left = (center ? x - 60 : x) + 'px';
    d.style.top = (y - 8) + 'px';
    if (center) { d.style.width = '120px'; d.style.textAlign = 'center'; }
    d.innerHTML = html;
    
    
    host.appendChild(d);
  }
  rule(79, 'table-1-top-rule'); rule(82, 'table-1-top-rule-2'); rule(115, 'table-1-header-rule'); rule(304, 'table-1-bottom-rule');
  const vl = document.createElement('div');
  vl.style.cssText = 'position:absolute;left:3583px;top:83px;height:221px;border-left:1px solid #333;';
  
  
  host.appendChild(vl);
  const cx = [3626, 3714, 3807, 3903];
  cell(3452, 91, 'Inversion', false);
  cell(cx[0], 91, '<i>ρ</i>(<i>v</i><sub><i>x</i></sub><sup>akern</sup>, <i>v</i><sub><i>x</i></sub><sup>inv</sup>)', true);
  cell(cx[1], 91, 'RMS(<i>v</i><sub><i>x</i></sub><sup>akern</sup>)', true);
  cell(cx[2], 91, 'expected noise', true);
  cell(cx[3], 91, 'derived noise', true);
  cell(cx[1], 107, '[m s<sup>−1</sup>]', true);
  cell(cx[2], 107, '[m s<sup>−1</sup>]', true);
  cell(cx[3], 107, '[m s<sup>−1</sup>]', true);
  t1Names.forEach((n, i) => {
    const y = 123 + i * 15.6;
    cell(3452, y, n, false);
    cell(cx[0], y, t1Rho[i], true);
    cell(cx[1], y, t1Rms[i], true);
    cell(cx[2], y, t1Expected[i], true);
    cell(cx[3], y, t1Derived[i], true);
  });
})();

// ---------- TABLE 2 ----------
(function () {
  const host = document.getElementById('table2');
  const L = 3910, R = 4099;
  function rule(y, name) {
    const d = document.createElement('div');
    d.style.cssText = 'position:absolute;left:' + L + 'px;width:' + (R - L) + 'px;top:' + y + 'px;border-top:1px solid #333;';
    
    
    host.appendChild(d);
  }
  function cell(x, y, html) {
    const d = document.createElement('div');
    d.className = 'tb';
    d.style.cssText += 'left:' + (x - 25) + 'px;top:' + (y - 8) + 'px;width:50px;text-align:center;font-size:12px;';
    d.innerHTML = html;
    
    
    host.appendChild(d);
  }
  rule(746, 'table-2-top-rule'); rule(749, 'table-2-top-rule-2'); rule(766, 'table-2-header-rule'); rule(817, 'table-2-bottom-rule'); rule(820, 'table-2-bottom-rule-2');
  const vl = document.createElement('div');
  vl.style.cssText = 'position:absolute;left:3970px;top:750px;height:67px;border-left:1px solid #333;';
  
  
  host.appendChild(vl);
  const cx = [3992, 4035, 4077];
  t2Cols.forEach((c, j) => cell(cx[j], 757, c));
  t2Rows.forEach((r, i) => {
    cell(3940, 775 + i * 16.5, r);
    t2Vals[i].forEach((v, j) => cell(cx[j], 775 + i * 16.5, v));
  });
})();
</script>
</body>
</html>
